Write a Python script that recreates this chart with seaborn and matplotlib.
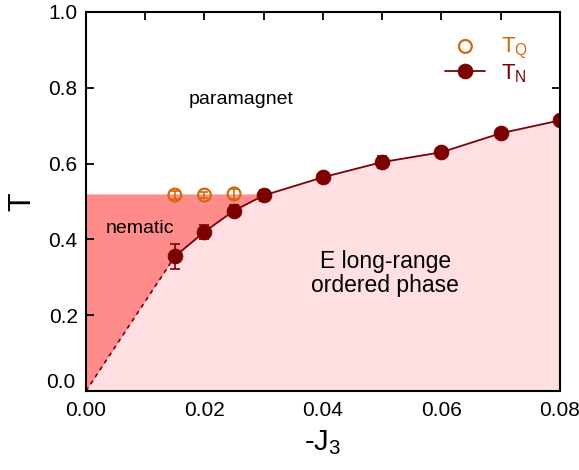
import numpy as np
import pandas as pd
import matplotlib
matplotlib.use("Agg")
import matplotlib.pyplot as plt
import seaborn as sns
from matplotlib.ticker import MultipleLocator, FuncFormatter

# Néel transition T_N(-J3)
j3_n = [0.015, 0.02, 0.025, 0.03, 0.04, 0.05, 0.06, 0.07, 0.08]
t_n = [0.355, 0.42, 0.476, 0.516, 0.564, 0.604, 0.630, 0.680, 0.714]
t_n_err = [0.032, 0.018, 0.015, 0.014, 0.010, 0.016, 0.010, 0.011, 0.010]

# quadrupolar (nematic) transition T_Q(-J3)
j3_q = [0.015, 0.02, 0.025]
t_q = [0.517, 0.517, 0.520]
t_q_err = [0.010, 0.009, 0.014]

# extrapolation of T_N to the origin
j3_ext = [0.0, 0.015]
t_ext = [0.0, 0.355]

# nematic plateau height
t_nem = 0.52

DARK = "#7d0000"
ORANGE = "#d2690a"
NEM_FILL = "#ff8b8b"
ORD_FILL = "#ffdfe1"

sns.set_theme(style="ticks")
plt.rcParams["font.family"] = ["Liberation Sans", "DejaVu Sans"]
plt.rcParams.update({"text.color": "black", "axes.labelcolor": "black",
                     "xtick.color": "black", "ytick.color": "black"})

fig = plt.figure(figsize=(5.79, 4.70), dpi=100)
ax = fig.add_axes([0.1485, 0.168, 0.8185, 0.8065])

# phase regions
bx = np.array(j3_ext[:1] + j3_n)
by = np.array(t_ext[:1] + t_n)
ax.fill_between(bx, by, t_nem, where=by <= t_nem + 1e-9, interpolate=True,
                color=NEM_FILL, lw=0, zorder=0)
ax.fill_between(bx, 0, by, color=ORD_FILL, lw=0, zorder=1)

# dashed extrapolation
ax.plot(j3_ext, t_ext, ls=(0, (2.5, 2.5)), color=DARK, lw=1.2, zorder=2)

# T_N curve
df_n = pd.DataFrame({"j3": j3_n, "T": t_n})
ax.errorbar(j3_n, t_n, yerr=t_n_err, fmt="none", ecolor=DARK, elinewidth=1.2,
            capsize=3.5, capthick=1.2, zorder=3)
sns.lineplot(data=df_n, x="j3", y="T", ax=ax, color=DARK, lw=1.3, marker="o",
             markersize=10.5, markeredgecolor=DARK, markerfacecolor=DARK,
             label=r"$\mathregular{T_N}$", zorder=4)

# T_Q points
df_q = pd.DataFrame({"j3": j3_q, "T": t_q})
ax.errorbar(j3_q, t_q, yerr=t_q_err, fmt="none", ecolor=ORANGE, elinewidth=1.2,
            capsize=3, capthick=1.2, zorder=3)
sns.scatterplot(data=df_q, x="j3", y="T", ax=ax, s=85, facecolor="none",
                edgecolor=ORANGE, linewidth=1.6, label=r"$\mathregular{T_Q}$",
                zorder=5)

ax.set_xlim(0, 0.08)
ax.set_ylim(0, 1.0)
ax.xaxis.set_major_locator(MultipleLocator(0.02))
ax.xaxis.set_minor_locator(MultipleLocator(0.01))
ax.yaxis.set_major_locator(MultipleLocator(0.2))
ax.xaxis.set_major_formatter(FuncFormatter(lambda v, p: f"{v:.2f}"))
# the y origin label is drawn separately, lifted above the x origin label
ax.yaxis.set_major_formatter(
    FuncFormatter(lambda v, p: "" if abs(v) < 1e-9 else f"{v:.1f}"))
ax.tick_params(which="both", direction="in", top=True, right=True,
               labelsize=15, width=1.3, color="black")
ax.tick_params(axis="x", pad=7)
ax.tick_params(axis="y", pad=6)
ax.tick_params(which="major", length=6)
ax.tick_params(which="minor", length=6)
for s in ax.spines.values():
    s.set_linewidth(1.5)
    s.set_color("black")
    s.set_zorder(10)

ax.annotate("0.0", xy=(0, 0), xycoords="axes fraction",
            xytext=(-7.5, 6.5), textcoords="offset points",
            ha="right", va="center", fontsize=15)

ax.set_xlabel(r"-J$_\mathregular{3}$", fontsize=21, labelpad=6)
ax.set_ylabel("T", fontsize=22, labelpad=8)

ax.text(0.0262, 0.77, "paramagnet", fontsize=14, ha="center", va="center")
ax.text(0.0091, 0.43, "nematic", fontsize=14, ha="center", va="center")
ax.text(0.0505, 0.31, "E long-range\nordered phase", fontsize=16.5,
        ha="center", va="center", linespacing=1.05)

h, l = ax.get_legend_handles_labels()
order = [l.index(r"$\mathregular{T_Q}$"), l.index(r"$\mathregular{T_N}$")]
leg = ax.legend([h[i] for i in order], [l[i] for i in order],
                loc="upper right", bbox_to_anchor=(0.975, 0.99), frameon=False,
                fontsize=16, handlelength=1.8, handletextpad=0.7,
                labelspacing=0.05)
leg.get_texts()[0].set_color(ORANGE)
leg.get_texts()[1].set_color(DARK)

fig.savefig("out.png", dpi=100)
